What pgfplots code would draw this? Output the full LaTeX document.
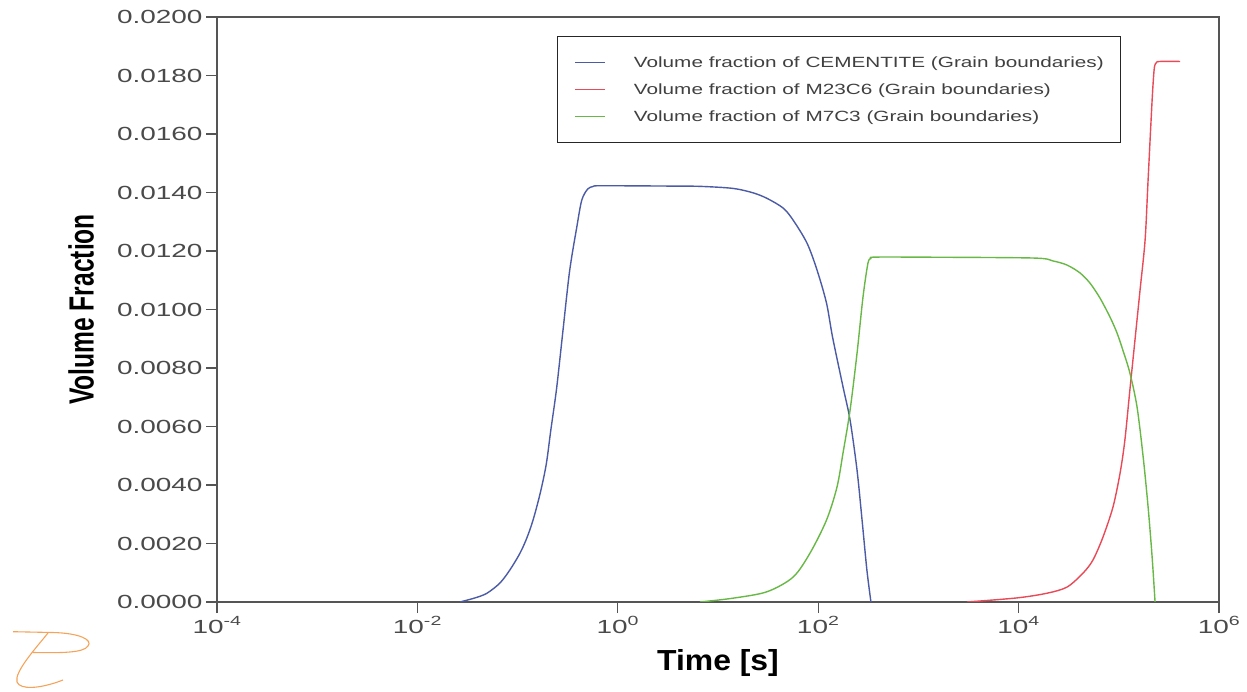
\documentclass[border=0pt]{standalone}
\usepackage{fontspec}
\usepackage{graphicx}
\setmainfont{Liberation Sans}
\newfontfamily\widesans[FakeStretch=1.47]{Liberation Sans}
\newfontfamily\legsans[FakeStretch=1.4]{Liberation Sans}
\newfontfamily\xlabfont[FakeStretch=1.1]{Liberation Sans}
\usepackage{pgfplots}
\usepackage{pgfplotstable}
\pgfplotsset{compat=1.18}
\definecolor{cemblue}{HTML}{4B5BA6}
\definecolor{mred}{HTML}{E84A57}
\definecolor{mgreen}{HTML}{68B846}
\definecolor{tickgray}{HTML}{4A4A4A}
\definecolor{axgray}{HTML}{555555}
\definecolor{logoorange}{HTML}{F5A35A}

\pgfplotstableread{
t y
0.0266 0
0.0376 0.00014
0.0495 0.0003
0.0667 0.00065
0.0839 0.0011
0.1057 0.00167
0.124 0.0022
0.1426 0.0028
0.1676 0.0037
0.1930 0.0047
0.2150 0.0059
0.245 0.0073
0.282 0.0092
0.330 0.0113
0.389 0.0128
0.437 0.01374
0.501 0.01412
0.560 0.01420
0.617 0.01423
1 0.01423
3.16 0.01422
6.61 0.01421
14.1 0.01414
22.3 0.01399
30.8 0.0138
44.6 0.01347
56.1 0.01306
77.3 0.01227
97.3 0.01135
121 0.01022
139 0.00906
177 0.00735
208 0.00622
244 0.00451
274 0.0028
306 0.0011
336 0
}\cementite

\pgfplotstableread{
t y
3050 0
9640 0.00014
19200 0.0003
30400 0.00051
44000 0.00099
55300 0.00144
69500 0.00222
87500 0.00325
103000 0.00441
115000 0.00554
129000 0.00725
145000 0.00896
163000 0.01067
183000 0.01238
196000 0.01443
215000 0.01716
225000 0.01819
232000 0.01840
240000 0.01846
258000 0.01848
408000 0.01848
}\mtwothree

\pgfplotstableread{
t y
6.61 0
14.1 0.00013
30.8 0.00035
56.1 0.00085
82.8 0.00167
121 0.0028
154 0.00393
177 0.0051
208 0.00656
244 0.0085
280 0.01043
314 0.01159
336 0.01174
360 0.01179
1000 0.01179
13900 0.01176
22000 0.01166
30400 0.01152
41000 0.01125
51600 0.0109
64900 0.01039
81700 0.00974
95900 0.0092
110000 0.0086
129000 0.00783
152000 0.00667
175000 0.00496
196000 0.00325
215000 0.00154
230000 0
}\mseven

\begin{document}
\begin{tikzpicture}
\useasboundingbox (0,0) rectangle (1247bp,692bp);
\begin{axis}[
  at={(217bp,90bp)}, anchor=south west,
  scale only axis, width=1002bp, height=585bp,
  xmode=log, xmin=1e-4, xmax=1e6,
  ymin=0, ymax=0.02,
  xtick={1e-4,1e-2,1,1e2,1e4,1e6},
  xticklabels={10\textsuperscript{-4},10\textsuperscript{-2},10\textsuperscript{0},10\textsuperscript{2},10\textsuperscript{4},10\textsuperscript{6}},
  minor xtick={},
  ytick={0,0.002,0.004,0.006,0.008,0.010,0.012,0.014,0.016,0.018,0.020},
  scaled y ticks=false,
  yticklabel style={/pgf/number format/fixed, /pgf/number format/fixed zerofill, /pgf/number format/precision=4, /pgf/number format/assume math mode=true},
  ticklabel style={font=\widesans\fontsize{19bp}{22bp}\selectfont, text=tickgray},
  tick align=outside, xtick pos=bottom, ytick pos=left,
  major tick length=11bp,
  every tick/.style={axgray, line width=1.2bp},
  axis line style={axgray, line width=1.2bp},
  xlabel={\xlabfont\bfseries\fontsize{29bp}{32bp}\selectfont Time [s]},
  xlabel style={at={(axis description cs:0.5,-0.104)}, anchor=center},
  ylabel={\scalebox{1}[1.42]{\bfseries\fontsize{24.6bp}{28bp}\selectfont Volume Fraction}},
  ylabel style={at={(axis description cs:-0.1357,0.5)}, anchor=center},
  legend style={at={(rel axis cs:0.3393,0.9675)}, anchor=north west,
    draw=black!85, line width=1bp, inner xsep=17bp, inner ysep=20bp,
    font=\legsans\fontsize{14.8bp}{18bp}\selectfont, text=black!75,
    nodes={inner sep=0pt}, row sep=14.8bp},
  legend cell align=left,
  legend image code/.code={\draw[#1, line width=1.5bp] (0bp,0.3bp) -- (30bp,0.3bp); \path (58bp,0bp);},
]
\addplot[cemblue, line width=1.4bp, line join=round, smooth, tension=0.5] table[x=t,y=y] {\cementite};
\addlegendentry{Volume fraction of CEMENTITE (Grain boundaries)}
\addplot[mred, line width=1.4bp, line join=round, smooth, tension=0.5] table[x=t,y=y] {\mtwothree};
\addlegendentry{Volume fraction of M23C6 (Grain boundaries)}
\addplot[mgreen, line width=1.4bp, line join=round, smooth, tension=0.5] table[x=t,y=y] {\mseven};
\addlegendentry{Volume fraction of M7C3 (Grain boundaries)}
\end{axis}
\begin{scope}[logoorange, line width=1.1bp, double=white, double distance=2.4bp]
\draw (13bp,60.3bp) -- (52bp,59.5bp) .. controls (80bp,59bp) and (93bp,52bp) .. (88bp,46bp) .. controls (84bp,39bp) and (60bp,39bp) .. (33bp,39.5bp);
\draw (48bp,59bp) .. controls (36bp,44bp) and (14bp,20bp) .. (17bp,10bp) .. controls (20bp,2bp) and (40bp,3bp) .. (63bp,12bp);
\end{scope}
\end{tikzpicture}
\end{document}
